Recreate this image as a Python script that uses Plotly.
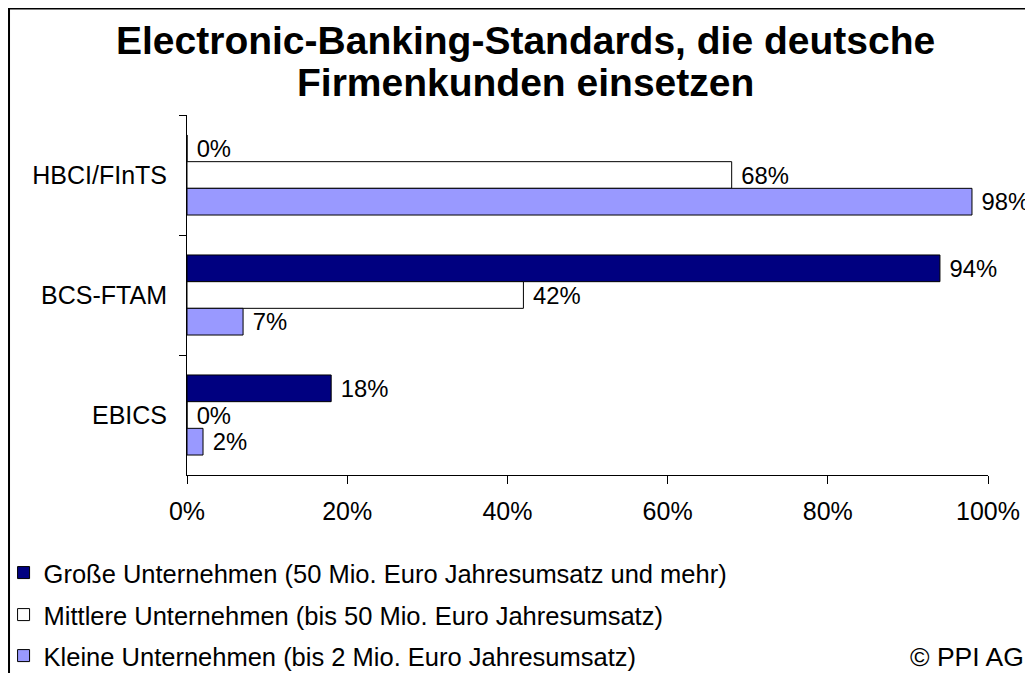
import plotly.graph_objects as go

categories = ["HBCI/FInTS", "BCS-FTAM", "EBICS"]
series_names = [
    "Große Unternehmen (50 Mio. Euro Jahresumsatz und mehr)",
    "Mittlere Unternehmen (bis 50 Mio. Euro Jahresumsatz)",
    "Kleine Unternehmen (bis 2 Mio. Euro Jahresumsatz)",
]
grosse = [0, 94, 18]
mittlere = [68, 42, 0]
kleine = [98, 7, 2]
series_values = [grosse, mittlere, kleine]
series_colors = ["#000080", "#FFFFFF", "#9999FF"]
x_ticks = [0, 20, 40, 60, 80, 100]
x_tick_labels = ["0%", "20%", "40%", "60%", "80%", "100%"]
title_lines = ["Electronic-Banking-Standards, die deutsche", "Firmenkunden einsetzen"]
copyright_text = "© PPI AG"

FONT = "Liberation Sans, Arial, sans-serif"
FS = 25
legend_ids = ["legend", "legend2", "legend3"]
legend_y = [-0.2722, -0.3889, -0.5028]

fig = go.Figure()
for name, vals, col, lid in zip(series_names, series_values, series_colors, legend_ids):
    fig.add_trace(go.Bar(
        y=categories, x=vals, name=name, orientation="h", legend=lid,
        marker=dict(color=col, line=dict(color="#000000", width=1)),
        text=[f"\u00a0{v}%" for v in vals], textposition="outside",
        textfont=dict(family=FONT, size=FS, color="#000000"),
        cliponaxis=False,
    ))

annotations = [
    dict(text=f"<b>{title_lines[0]}</b>", xref="paper", yref="paper",
         x=0.4232, xanchor="center", y=1.2083, yanchor="middle", showarrow=False,
         font=dict(family=FONT, size=39, color="#000000")),
    dict(text=f"<b>{title_lines[1]}</b>", xref="paper", yref="paper",
         x=0.4232, xanchor="center", y=1.0889, yanchor="middle", showarrow=False,
         font=dict(family=FONT, size=39, color="#000000")),
    dict(text=copyright_text, xref="paper", yref="paper",
         x=1.048, xanchor="right", y=-0.5056, yanchor="middle",
         showarrow=False, font=dict(family=FONT, size=26.5, color="#000000")),
]

legend_style = dict(
    orientation="v", x=-0.229, xanchor="left", yanchor="middle",
    font=dict(family=FONT, size=25.5, color="#000000"),
    bgcolor="rgba(0,0,0,0)", itemclick=False, itemdoubleclick=False,
)

fig.update_layout(
    width=1025, height=665,
    paper_bgcolor="white", plot_bgcolor="white",
    margin=dict(l=179, r=45, t=107, b=198, autoexpand=False),
    barmode="group", bargap=0.333, bargroupgap=0,
    font=dict(family=FONT, size=FS, color="#000000"),
    showlegend=True,
    legend=dict(legend_style, y=legend_y[0]),
    legend2=dict(legend_style, y=legend_y[1]),
    legend3=dict(legend_style, y=legend_y[2]),
    xaxis=dict(
        range=[0, 100], tickmode="array", tickvals=x_ticks, ticktext=x_tick_labels,
        showgrid=False, zeroline=False, showline=True, linecolor="#000000", linewidth=1,
        ticks="outside", ticklen=8, tickcolor="#000000", ticklabelstandoff=6,
        tickfont=dict(family=FONT, size=FS), fixedrange=True, automargin=False,
    ),
    yaxis=dict(
        type="category", autorange="reversed", tickson="boundaries",
        showgrid=False, zeroline=False, showline=True, linecolor="#000000", linewidth=1,
        ticks="outside", ticklen=7, tickcolor="#000000",
        tickfont=dict(family=FONT, size=FS), ticklabelstandoff=14, fixedrange=True,
        automargin=False,
    ),
    shapes=[dict(
        type="rect", xref="paper", yref="paper",
        x0=-0.2222, x1=1.3, y0=-1.0, y1=1.296,
        line=dict(color="#000000", width=2), fillcolor="rgba(0,0,0,0)",
    )],
    annotations=annotations,
)

fig.write_html("out.html")
